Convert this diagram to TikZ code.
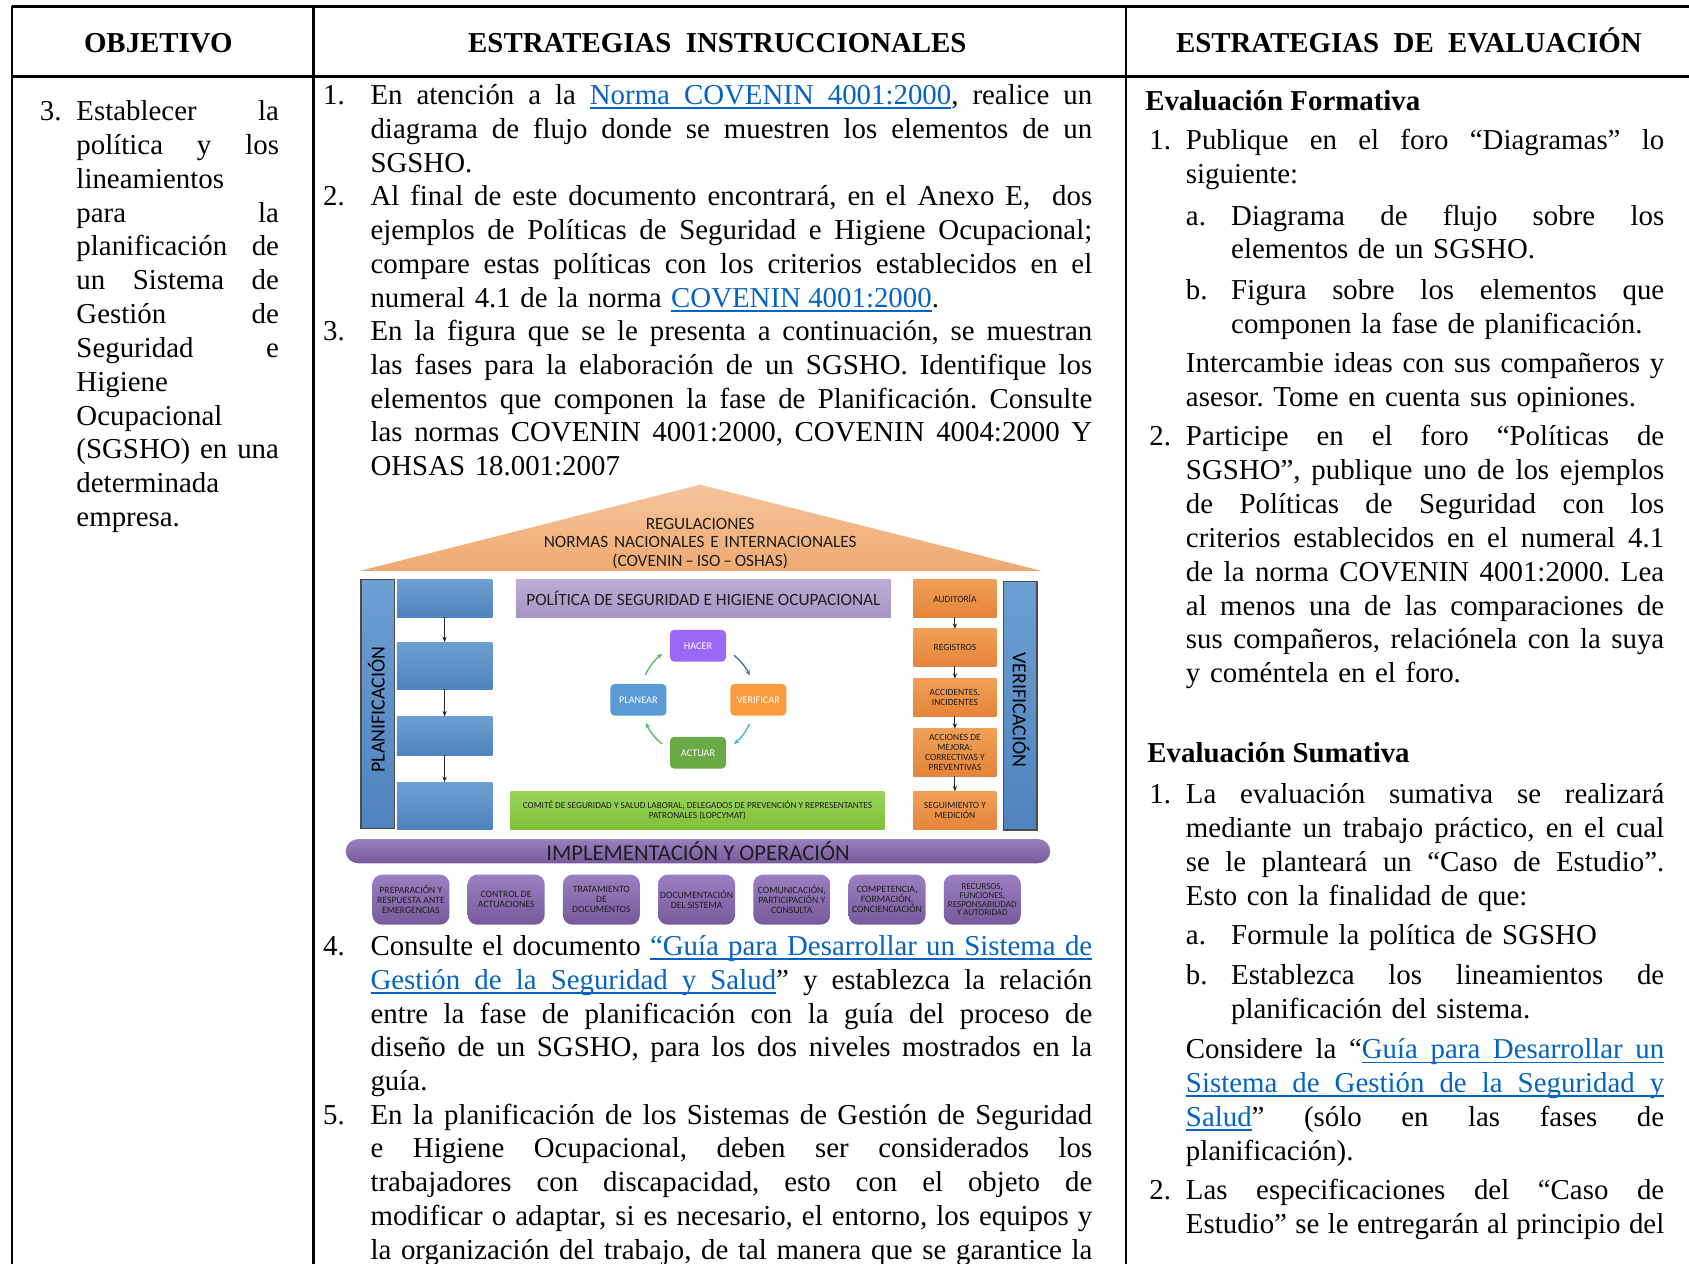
\documentclass[tikz,border=0pt]{standalone}
\usepackage{fontspec}
\setmainfont{Liberation Serif}
\newfontfamily\figfont{Carlito}
\usetikzlibrary{arrows.meta}
\definecolor{linkblue}{HTML}{0563C1}
\definecolor{roofT}{HTML}{F6C49C}
\definecolor{roofB}{HTML}{EFAA72}
\definecolor{blueT}{HTML}{6E9FD2}
\definecolor{blueB}{HTML}{4F83BE}
\definecolor{lavT}{HTML}{BCAED6}
\definecolor{lavB}{HTML}{A594C5}
\definecolor{orT}{HTML}{F0A055}
\definecolor{orB}{HTML}{E5843A}
\definecolor{grT}{HTML}{9AD45A}
\definecolor{grB}{HTML}{7EC03A}
\definecolor{puT}{HTML}{9A80C0}
\definecolor{puB}{HTML}{765A9C}
\definecolor{hacerc}{HTML}{9B67F5}
\definecolor{planc}{HTML}{5B9BD5}
\definecolor{verc}{HTML}{F99C3E}
\definecolor{actc}{HTML}{6AAA45}
\definecolor{figtext}{HTML}{1E1E1E}
\definecolor{cycgreen}{HTML}{5DBB63}
\definecolor{cycblue}{HTML}{4472C4}
\definecolor{cycteal}{HTML}{4BB8C6}
\newcommand\bodyfont{\fontsize{26.8pt}{31.4pt}\selectfont}
\newcommand\JL[1]{\makebox[\linewidth][s]{\spaceskip=\fontdimen2\font plus 1fil\relax\xspaceskip=\spaceskip #1}}
\newcommand\lw[1]{{\color{linkblue}\setbox0=\hbox{#1}\rlap{\vrule height -2.6pt depth 4pt width \wd0}\box0}}
\newcommand\ls{{\color{linkblue}\leaders\hrule height -2.6pt depth 4pt\hskip\fontdimen2\font plus 1fil\relax}}
\newcommand\lsr{{\color{linkblue}\leaders\hrule height -2.6pt depth 4pt\hskip\fontdimen2\font\relax}}
\newcommand\ff[2]{\figfont\fontsize{#1pt}{#2pt}\selectfont}
\begin{document}
\begin{tikzpicture}[x=1pt,y=-1pt,
  tbl/.style={line width=2.1pt},
  para/.style={anchor=base west, inner sep=0pt, outer sep=0pt, font=\bodyfont\frenchspacing},
  num/.style={anchor=base west, inner sep=0pt, outer sep=0pt, font=\bodyfont},
  head/.style={anchor=base, inner sep=0pt, font=\bodyfont\bfseries},
  sub/.style={anchor=base west, inner sep=0pt, font=\bodyfont\bfseries},
  fig/.style={inner sep=0pt, outer sep=0pt, align=center, text=figtext},
  bluebox/.style={fig, top color=blueT, bottom color=blueB, minimum width=88.5pt},
  bluebar/.style={fig, top color=blueT, bottom color=blueB, draw=black!70, line width=1.2pt, minimum width=31pt},
  lavbox/.style={fig, top color=lavT, bottom color=lavB},
  orbox/.style={fig, top color=orT, bottom color=orB, minimum width=77pt, font=\ff{8.8}{9.4}},
  grbox/.style={fig, top color=grT, bottom color=grB},
  pdca/.style={fig, rounded corners=4pt, minimum width=52pt, minimum height=29.5pt, text=white, font=\ff{9.5}{11}},
  pubox/.style={fig, rounded corners=9pt, top color=puT, bottom color=puB, minimum width=71.5pt, minimum height=46.5pt, font=\ff{9}{9.3}},
  farrow/.style={-{Stealth[length=5pt,width=4pt]}, line width=0.8pt, draw=black!85},
  cyca/.style={-{Stealth[length=5pt,width=4.5pt]}, line width=1.3pt},
]
\useasboundingbox (0,0) rectangle (1568,1173);
\clip (0,0) rectangle (1568,1173);
\fill[white] (0,0) rectangle (1568,1173);

% ---------------- table ----------------
\draw[tbl] (11,6) -- (1580,6);
\draw[tbl] (11,71) -- (1580,71);
\draw[tbl] (11,6) -- (11,1190);
\draw[tbl] (291,6) -- (291,1190);
\draw[tbl] (1045,6) -- (1045,1190);

\node[head] (h1) at (147,48.5) {OBJETIVO};
\node[head] (h2) at (666,48.5) {ESTRATEGIAS\ \ INSTRUCCIONALES};
\node[head] (h3) at (1308,48.5) {ESTRATEGIAS\ \ DE\ \ EVALUACIÓN};

% ---------------- column 1 ----------------
\node[num] (n3) at (37,112) {3.};
\node[para, text width=188pt] (obj) at (71,112) {\JL{Establecer la}\\
\JL{política y los}\\
lineamientos\\
\JL{para la}\\
\JL{planificación de}\\
\JL{un Sistema de}\\
\JL{Gestión de}\\
\JL{Seguridad e}\\
Higiene\\
Ocupacional\\
\JL{(SGSHO) en una}\\
determinada\\
empresa.};

% ---------------- column 2 ----------------
\node[num] (e1) at (300,97) {1.};
\node[para, text width=670pt] (p1) at (344,97) {\JL{En atención a la \lw{Norma}\ls\lw{COVENIN}\ls\lw{4001:2000}, realice un}\\
\JL{diagrama de flujo donde se muestren los elementos de un}\\
SGSHO.};
\node[num] (e2) at (300,191) {2.};
\node[para, text width=670pt] (p2) at (344,191) {\JL{Al final de este documento encontrará, en el Anexo E,\ \ dos}\\
\JL{ejemplos de Políticas de Seguridad e Higiene Ocupacional;}\\
\JL{compare estas políticas con los criterios establecidos en el}\\
numeral 4.1 de la norma \lw{COVENIN}\lsr\lw{4001:2000}.};
\node[num] (e3) at (300,316) {3.};
\node[para, text width=670pt] (p3) at (344,316) {\JL{En la figura que se le presenta a continuación, se muestran}\\
\JL{las fases para la elaboración de un SGSHO. Identifique los}\\
\JL{elementos que componen la fase de Planificación. Consulte}\\
\JL{las normas COVENIN 4001:2000, COVENIN 4004:2000 Y}\\
OHSAS 18.001:2007};
\node[num] (e4) at (300,887) {4.};
\node[para, text width=670pt] (p4) at (344,887) {\JL{Consulte el documento \lw{“Guía}\ls\lw{para}\ls\lw{Desarrollar}\ls\lw{un}\ls\lw{Sistema}\ls\lw{de}}\\
\JL{\lw{Gestión}\ls\lw{de}\ls\lw{la}\ls\lw{Seguridad}\ls\lw{y}\ls\lw{Salud}” y establezca la relación}\\
\JL{entre la fase de planificación con la guía del proceso de}\\
\JL{diseño de un SGSHO, para los dos niveles mostrados en la}\\
guía.};
\node[num] (e5) at (300,1043.5) {5.};
\node[para, text width=670pt] (p5) at (344,1043.5) {\JL{En la planificación de los Sistemas de Gestión de Seguridad}\\
\JL{e Higiene Ocupacional, deben ser considerados los}\\
\JL{trabajadores con discapacidad, esto con el objeto de}\\
\JL{modificar o adaptar, si es necesario, el entorno, los equipos y}\\
\JL{la organización del trabajo, de tal manera que se garantice la}};

% ---------------- column 3 ----------------
\node[sub] (ef) at (1063,103) {Evaluación Formativa};
\node[num] (f1) at (1067,139) {1.};
\node[para, text width=444pt] (q1) at (1101,139) {\JL{Publique en el foro “Diagramas” lo}\\
siguiente:};
\node[num] (fa) at (1101,209) {a.};
\node[para, text width=402pt] (qa) at (1143,209) {\JL{Diagrama de flujo sobre los}\\
elementos de un SGSHO.};
\node[num] (fb) at (1101,278) {b.};
\node[para, text width=402pt] (qb) at (1143,278) {\JL{Figura sobre los elementos que}\\
componen la fase de planificación.};
\node[para, text width=444pt] (qi) at (1101,346) {\JL{Intercambie ideas con sus compañeros y}\\
asesor. Tome en cuenta sus opiniones.};
\node[num] (f2) at (1067,414) {2.};
\node[para, text width=444pt] (q2) at (1101,414) {\JL{Participe en el foro “Políticas de}\\
\JL{SGSHO”, publique uno de los ejemplos}\\
\JL{de Políticas de Seguridad con los}\\
\JL{criterios establecidos en el numeral 4.1}\\
\JL{de la norma COVENIN 4001:2000. Lea}\\
\JL{al menos una de las comparaciones de}\\
\JL{sus compañeros, relaciónela con la suya}\\
y coméntela en el foro.};

\node[sub] (es) at (1065,708) {Evaluación Sumativa};
\node[num] (s1) at (1067,746) {1.};
\node[para, text width=444pt] (r1) at (1101,746) {\JL{La evaluación sumativa se realizará}\\
\JL{mediante un trabajo práctico, en el cual}\\
\JL{se le planteará un “Caso de Estudio”.}\\
Esto con la finalidad de que:};
\node[num] (sa) at (1101,877) {a.};
\node[para, text width=402pt] (ra) at (1143,877) {Formule la política de SGSHO};
\node[num] (sb) at (1101,914) {b.};
\node[para, text width=402pt] (rb) at (1143,914) {\JL{Establezca los lineamientos de}\\
planificación del sistema.};
\node[para, text width=444pt] (rc) at (1101,983) {\JL{Considere la “\lw{Guía}\ls\lw{para}\ls\lw{Desarrollar}\ls\lw{un}}\\
\JL{\lw{Sistema}\ls\lw{de}\ls\lw{Gestión}\ls\lw{de}\ls\lw{la}\ls\lw{Seguridad}\ls\lw{y}}\\
\JL{\lw{Salud}” (sólo en las fases de}\\
planificación).};
\node[num] (s2) at (1067,1114) {2.};
\node[para, text width=444pt] (r2) at (1101,1114) {\JL{Las especificaciones del “Caso de}\\
\JL{Estudio” se le entregarán al principio del}};

% ---------------- figure ----------------
\shade[top color=roofT, bottom color=roofB] (334,530) -- (650,450) -- (967,530) -- cycle;
\node[fig, anchor=base, text width=420pt, font=\ff{16}{17}] (roof) at (650,491.5) {REGULACIONES\\NORMAS NACIONALES E INTERNACIONALES\\(COVENIN\,–\,ISO\,–\,OSHAS)};

\node[bluebar, minimum height=231pt] (planbar) at (350.5,653.5) {};
\node[fig, rotate=90, font=\ff{18.5}{20}, text=black] (plantxt) at (349.5,658.5) {PLANIFICACIÓN};
\node[bluebox, minimum height=35pt] (pb1) at (412.75,555.5) {};
\node[bluebox, minimum height=44pt] (pb2) at (412.75,618) {};
\node[bluebox, minimum height=36pt] (pb3) at (412.75,683) {};
\node[bluebox, minimum height=44pt] (pb4) at (412.75,748) {};
\draw[farrow] (pb1) -- (pb2);
\draw[farrow] (pb2) -- (pb3);
\draw[farrow] (pb3) -- (pb4);

\node[lavbox, minimum width=348pt, minimum height=35pt, font=\ff{16}{18}] (pol) at (653,555.5) {POLÍTICA DE SEGURIDAD E HIGIENE OCUPACIONAL};

\node[pdca, fill=hacerc] (hacer) at (648,599.5) {HACER};
\node[pdca, fill=planc] (planear) at (592.7,649.7) {PLANEAR};
\node[pdca, fill=verc] (verificar) at (704,649.7) {VERIFICAR};
\node[pdca, fill=actc] (actuar) at (648,698.8) {ACTUAR};
\coordinate (cyc) at (648,649.5);
\draw[cyca, cycgreen] ([shift={(-155:54)}]cyc) arc[start angle=-155, end angle=-128, radius=54];
\draw[cyca, cycblue] ([shift={(-51:53)}]cyc) arc[start angle=-51, end angle=-25, radius=53];
\draw[cyca, cycteal] ([shift={(25:53)}]cyc) arc[start angle=25, end angle=51, radius=53];
\draw[cyca, cycgreen] ([shift={(129:53)}]cyc) arc[start angle=129, end angle=156, radius=53];

\node[grbox, minimum width=347pt, minimum height=35pt, font=\ff{8.6}{9.6}] (comite) at (647.5,752.5) {COMITÉ DE SEGURIDAD Y SALUD LABORAL, DELEGADOS DE PREVENCIÓN Y REPRESENTANTES\\PATRONALES (LOPCYMAT)};

\node[orbox, minimum height=35pt] (aud) at (886.5,555.5) {AUDITORÍA};
\node[orbox, minimum height=35pt] (reg) at (886.5,601.2) {REGISTROS};
\node[orbox, minimum height=35pt] (acc) at (886.5,647.5) {ACCIDENTES,\\INCIDENTES};
\node[orbox, minimum height=44.3pt] (mej) at (886.5,698.6) {ACCIONES DE\\MEJORA:\\CORRECTIVAS Y\\PREVENTIVAS};
\node[orbox, minimum height=35.3pt] (seg) at (886.5,752.3) {SEGUIMIENTO Y\\MEDICIÓN};
\draw[farrow] (aud) -- (reg);
\draw[farrow] (reg) -- (acc);
\draw[farrow] (acc) -- (mej);
\draw[farrow] (mej) -- (seg);

\node[bluebar, minimum height=230.7pt] (verbar) at (947.2,655.1) {};
\node[fig, rotate=-90, font=\ff{18.5}{20}, text=black] (vertxt) at (948,659) {VERIFICACIÓN};

\node[fig, rounded corners=11.2pt, top color=puT, bottom color=puB, minimum width=654pt, minimum height=22.4pt, font=\ff{21}{22}] (impl) at (648,790.2) {IMPLEMENTACIÓN Y OPERACIÓN};

\node[pubox] (b1) at (381.5,835.2) {PREPARACIÓN Y\\RESPUESTA ANTE\\EMERGENCIAS};
\node[pubox] (b2) at (469.9,835.2) {CONTROL DE\\ACTUACIONES};
\node[pubox] (b3) at (558.3,835.2) {TRATAMIENTO\\DE\\DOCUMENTOS};
\node[pubox] (b4) at (646.7,835.2) {DOCUMENTACIÓN\\DEL SISTEMA};
\node[pubox] (b5) at (735.1,835.2) {COMUNICACIÓN,\\PARTICIPACIÓN Y\\CONSULTA};
\node[pubox] (b6) at (823.5,835.2) {COMPETENCIA,\\FORMACIÓN,\\CONCIENCIACIÓN};
\node[pubox, font=\ff{8.4}{8.3}] (b7) at (911.9,835.2) {RECURSOS,\\FUNCIONES,\\RESPONSABILIDAD\\Y AUTORIDAD};
\end{tikzpicture}
\end{document}
